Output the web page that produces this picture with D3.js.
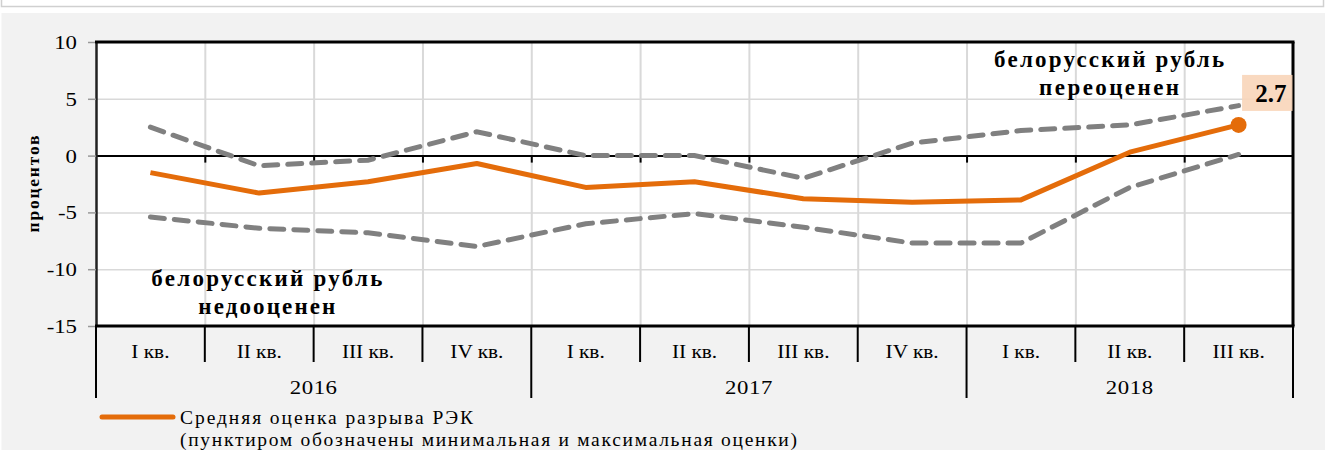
<!DOCTYPE html>
<html>
<head>
<meta charset="utf-8">
<script src="https://cdn.jsdelivr.net/npm/d3@7/dist/d3.min.js"></script>
<style>
  body { margin: 0; background: #fff; }
  svg { display: block; }
  text { font-family: "Liberation Serif", "Times New Roman", serif; fill: #000; }
</style>
</head>
<body>
<svg id="chart"></svg>
<script>
const quarters = ["I кв.", "II кв.", "III кв.", "IV кв.", "I кв.", "II кв.", "III кв.", "IV кв.", "I кв.", "II кв.", "III кв."];
const years = ["2016", "2017", "2018"];
const yearSpan = [4, 4, 3];
const avgGap = [-1.5, -3.3, -2.3, -0.7, -2.8, -2.3, -3.8, -4.1, -3.9, 0.3, 2.7];
const maxGap = [2.5, -0.9, -0.4, 2.1, 0.0, 0.0, -2.0, 1.1, 2.2, 2.7, 4.4];
const minGap = [-5.4, -6.4, -6.8, -8.0, -6.0, -5.1, -6.3, -7.7, -7.7, -2.8, 0.1];
const yTicks = [-15, -10, -5, 0, 5, 10];
const lastValueLabel = "2.7";
const legendLines = ["Средняя оценка разрыва РЭК", "(пунктиром обозначены минимальная и максимальная оценки)"];
const yTitle = "процентов";
const noteLow = ["белорусский рубль", "недооценен"];
const noteHigh = ["белорусский рубль", "переоценен"];

const w = 1325;
const h = 450;
const pLeft = 96, pRight = 1293, pTop = 42, pBottom = 326;
const orange = "#e46c0a";
const grey = "#808080";

const svg = d3.select("#chart").attr("width", w).attr("height", h);

// page background
svg.append("rect").attr("width", w).attr("height", h).attr("fill", "#fff");
svg.append("rect").attr("x", 1.5).attr("y", -2).attr("width", 1322).attr("height", 8.5)
  .attr("fill", "#fff").attr("stroke", "#d0d0d0").attr("stroke-width", 1.5);
svg.append("rect").attr("x", 1.5).attr("y", 13).attr("width", w).attr("height", h)
  .attr("fill", "#f2f2f2");

const x = d3.scaleBand().domain(d3.range(quarters.length)).range([pLeft, pRight]).padding(0);
const xb = d3.scaleLinear().domain([0, quarters.length]).range([pLeft, pRight]);
const xc = (i) => x(i) + x.bandwidth() / 2;
const y = d3.scaleLinear().domain([-15, 10]).range([pBottom, pTop]);

// plot area
svg.append("rect").attr("x", pLeft).attr("y", pTop).attr("width", pRight - pLeft).attr("height", pBottom - pTop)
  .attr("fill", "#fff");

// horizontal grid
const gridY = svg.append("g").attr("transform", `translate(${pLeft},0)`)
  .call(d3.axisLeft(y).tickValues([-10, -5, 5]).tickSize(-(pRight - pLeft)).tickFormat(""));
gridY.select(".domain").remove();
gridY.selectAll("line").attr("stroke", "#d9d9d9").attr("stroke-width", 1.5);

// vertical grid at category boundaries
const gridX = svg.append("g").attr("transform", `translate(0,${pTop})`)
  .call(d3.axisBottom(xb).tickValues(d3.range(1, quarters.length)).tickSize(pBottom - pTop).tickFormat(""));
gridX.select(".domain").remove();
gridX.selectAll("line").attr("stroke", "#d9d9d9").attr("stroke-width", 2);

// zero axis with small ticks
const zeroAxis = svg.append("g").attr("transform", `translate(0,${y(0)})`)
  .call(d3.axisBottom(xb).tickValues(d3.range(1, quarters.length)).tickSize(7).tickSizeOuter(0).tickFormat(""));
zeroAxis.select(".domain").attr("stroke", "#000").attr("stroke-width", 2);
zeroAxis.selectAll("line").attr("stroke", "#000").attr("stroke-width", 2);

// y axis
const yAxis = svg.append("g").attr("transform", `translate(${pLeft},0)`)
  .call(d3.axisLeft(y).tickValues(yTicks).tickSize(8).tickSizeOuter(0).tickFormat((d) => String(d)));
yAxis.select(".domain").attr("stroke", "#222").attr("stroke-width", 2.5);
yAxis.selectAll(".tick line").attr("stroke", "#999").attr("stroke-width", 1.5);
yAxis.selectAll(".tick text")
  .attr("x", 0).attr("dy", "0.34em")
  .attr("transform", "translate(-19,0) scale(1.2,1)")
  .style("font-size", "19px").style("font-family", "Liberation Serif");

// frame top/right/bottom
svg.append("line").attr("x1", pLeft - 1).attr("x2", pRight + 1.5).attr("y1", pTop).attr("y2", pTop)
  .attr("stroke", "#000").attr("stroke-width", 3);
svg.append("line").attr("x1", pRight).attr("x2", pRight).attr("y1", pTop).attr("y2", pBottom)
  .attr("stroke", "#000").attr("stroke-width", 3);
svg.append("line").attr("x1", pLeft - 1).attr("x2", pRight + 1.5).attr("y1", pBottom).attr("y2", pBottom)
  .attr("stroke", "#000").attr("stroke-width", 3);

// category axis below plot
const yearEdges = [0];
yearSpan.forEach((s) => yearEdges.push(yearEdges[yearEdges.length - 1] + s));
svg.append("g").selectAll("line")
  .data(d3.range(0, quarters.length + 1))
  .join("line")
  .attr("x1", (d) => xb(d)).attr("x2", (d) => xb(d))
  .attr("y1", pBottom).attr("y2", (d) => (yearEdges.includes(d) ? 398 : 362))
  .attr("stroke", "#000").attr("stroke-width", 2);

svg.append("g").selectAll("text")
  .data(quarters)
  .join("text")
  .attr("transform", (d, i) => `translate(${xc(i)},358) scale(1.15,1)`)
  .attr("text-anchor", "middle")
  .style("font-size", "18.5px")
  .text((d) => d);

svg.append("g").selectAll("text")
  .data(years)
  .join("text")
  .attr("transform", (d, i) => `translate(${xb(yearEdges[i] + yearSpan[i] / 2)},394) scale(1.2,1)`)
  .attr("text-anchor", "middle")
  .style("font-size", "19px")
  .style("letter-spacing", "0.5px")
  .text((d) => d);

// series
const line = d3.line().x((d, i) => xc(i)).y((d) => y(d));
const dashed = [maxGap, minGap];
svg.append("g").selectAll("path")
  .data(dashed)
  .join("path")
  .attr("d", line)
  .attr("fill", "none")
  .attr("stroke", grey)
  .attr("stroke-width", 5)
  .attr("stroke-linecap", "round")
  .attr("stroke-dasharray", "14,10");

svg.append("path")
  .attr("d", line(avgGap))
  .attr("fill", "none")
  .attr("stroke", orange)
  .attr("stroke-width", 5)
  .attr("stroke-linejoin", "round");

const lastI = avgGap.length - 1;
const px = xc(lastI), py = y(avgGap[lastI]);
svg.append("circle").attr("cx", px).attr("cy", py).attr("r", 8).attr("fill", orange);

// value label
svg.append("rect").attr("x", px + 3.5).attr("y", py - 50).attr("width", pRight - px - 4).attr("height", 36)
  .attr("fill", "#f8d5b9").attr("opacity", 0.9);
svg.append("text").attr("x", px + 48).attr("y", py - 23)
  .attr("text-anchor", "end")
  .style("font-size", "25px").style("font-weight", "bold")
  .text(lastValueLabel);

// notes
const note = (lines, cx, y0, widths) => {
  lines.forEach((t, k) => {
    svg.append("text")
      .attr("x", cx).attr("y", y0 + k * 28)
      .attr("text-anchor", "middle")
      .attr("textLength", widths[k]).attr("lengthAdjust", "spacing")
      .style("font-size", "23px").style("font-weight", "bold")
      .text(t);
  });
};
note(noteLow, xb(1.57), 286, [231, 137]);
note(noteHigh, xb(9.31), 67, [230, 140]);

// y title
svg.append("text")
  .attr("transform", `translate(39,${(pTop + pBottom) / 2}) rotate(-90)`)
  .attr("text-anchor", "middle")
  .attr("textLength", 97).attr("lengthAdjust", "spacing")
  .style("font-size", "17.5px").style("font-weight", "bold")
  .text(yTitle);

// legend
svg.append("line").attr("x1", 102).attr("x2", 173).attr("y1", 417).attr("y2", 417)
  .attr("stroke", orange).attr("stroke-width", 5).attr("stroke-linecap", "round");
svg.append("text").attr("x", 180).attr("y", 424)
  .attr("textLength", 293).attr("lengthAdjust", "spacing")
  .style("font-size", "19.5px").text(legendLines[0]);
svg.append("text").attr("x", 180).attr("y", 446)
  .attr("textLength", 617).attr("lengthAdjust", "spacing")
  .style("font-size", "19.5px").text(legendLines[1]);
</script>
</body>
</html>
